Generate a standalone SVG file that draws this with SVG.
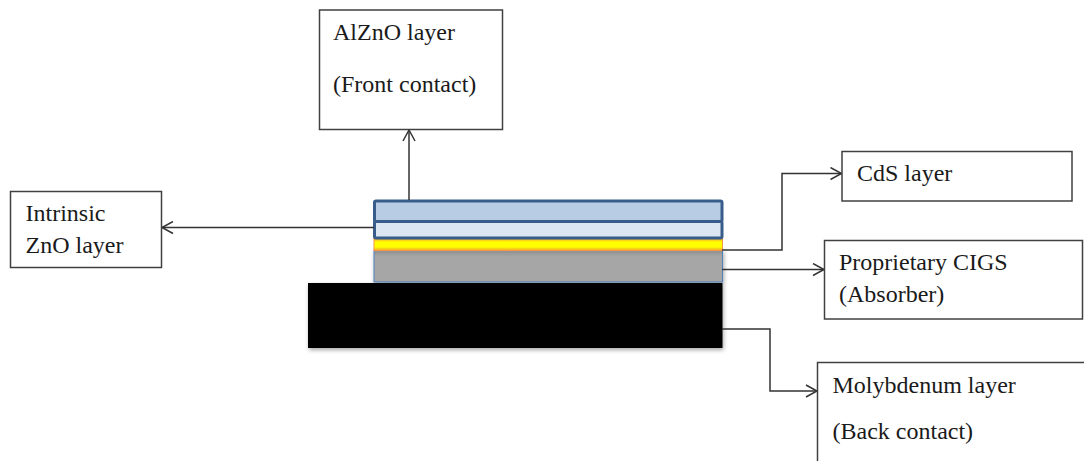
<svg xmlns="http://www.w3.org/2000/svg" width="1084" height="461" viewBox="0 0 1084 461">
<style>
.box{fill:#fff;stroke:#404040;stroke-width:1.5}
.lbl{font-family:'Liberation Serif','DejaVu Serif',serif;font-size:24px;fill:#1a1a1a}
.con{fill:none;stroke:#333;stroke-width:1.5}
</style>
<defs>
<marker id="arr" markerWidth="14" markerHeight="14" refX="12" refY="7" orient="auto" markerUnits="userSpaceOnUse">
<path d="M1,1 L12,7 L1,13" fill="none" stroke="#333" stroke-width="1.5"/>
</marker>
<linearGradient id="yel" x1="0" y1="0" x2="0" y2="1">
<stop offset="0" stop-color="#f7a030"/>
<stop offset="0.3" stop-color="#ffff00"/>
<stop offset="0.7" stop-color="#ffff00"/>
<stop offset="1" stop-color="#f7a030"/>
</linearGradient>
<linearGradient id="gry" x1="0" y1="0" x2="0" y2="1">
<stop offset="0" stop-color="#8c8c8c"/>
<stop offset="0.2" stop-color="#a6a6a6"/>
<stop offset="1" stop-color="#a6a6a6"/>
</linearGradient>
<filter id="sh" x="-5%" y="-10%" width="110%" height="130%">
<feDropShadow dx="1" dy="2" stdDeviation="2" flood-color="#000" flood-opacity="0.35"/>
</filter>
</defs>
<g id="stack">
<rect x="374" y="250" width="348.5" height="32" fill="url(#gry)" stroke="#4f81bd" stroke-width="1" filter="url(#sh)"/>
<rect x="308" y="283" width="414.5" height="65" fill="#000" filter="url(#sh)"/>
<rect x="374" y="238.5" width="348.5" height="12" fill="url(#yel)" stroke="#f79646" stroke-width="1"/>
<rect x="374.5" y="201" width="347.5" height="20.5" fill="#b8cce4" stroke="#385d8a" stroke-width="3" rx="1.5"/>
<rect x="374.5" y="221.5" width="347.5" height="16.5" fill="#dce6f2" stroke="#385d8a" stroke-width="3" rx="1.5"/>
</g>
<g id="connectors">
<path class="con" d="M409,200 L409,130" marker-end="url(#arr)"/>
<path class="con" d="M374,227.5 L162,227.5" marker-end="url(#arr)"/>
<path class="con" d="M722,250 L782,250 L782,173.5 L841.5,173.5" marker-end="url(#arr)"/>
<path class="con" d="M722,269.5 L824,269.5" marker-end="url(#arr)"/>
<path class="con" d="M722,329 L770,329 L770,391 L817,391" marker-end="url(#arr)"/>
</g>
<g id="node-alzno">
<rect class="box" x="319.5" y="10" width="183" height="119.5"/>
<text class="lbl" x="333" y="39.5" font-family="Liberation Serif, serif">AlZnO layer</text>
<text class="lbl" x="333" y="92" font-family="Liberation Serif, serif">(Front contact)</text>
</g>
<g id="node-izno">
<rect class="box" x="10.5" y="191.5" width="151" height="76"/>
<text class="lbl" x="25.5" y="221">Intrinsic</text>
<text class="lbl" x="25.5" y="253">ZnO layer</text>
</g>
<g id="node-cds">
<rect class="box" x="842" y="151.5" width="230" height="49.5"/>
<text class="lbl" x="857" y="181">CdS layer</text>
</g>
<g id="node-cigs">
<rect class="box" x="824.5" y="240.5" width="258" height="78.5"/>
<text class="lbl" x="839" y="269.5">Proprietary CIGS</text>
<text class="lbl" x="839" y="302">(Absorber)</text>
</g>
<g id="node-mo">
<rect class="box" x="817.5" y="362.5" width="280" height="110"/>
<text class="lbl" x="832.5" y="393">Molybdenum layer</text>
<text class="lbl" x="832.5" y="438.5">(Back contact)</text>
</g>
</svg>
